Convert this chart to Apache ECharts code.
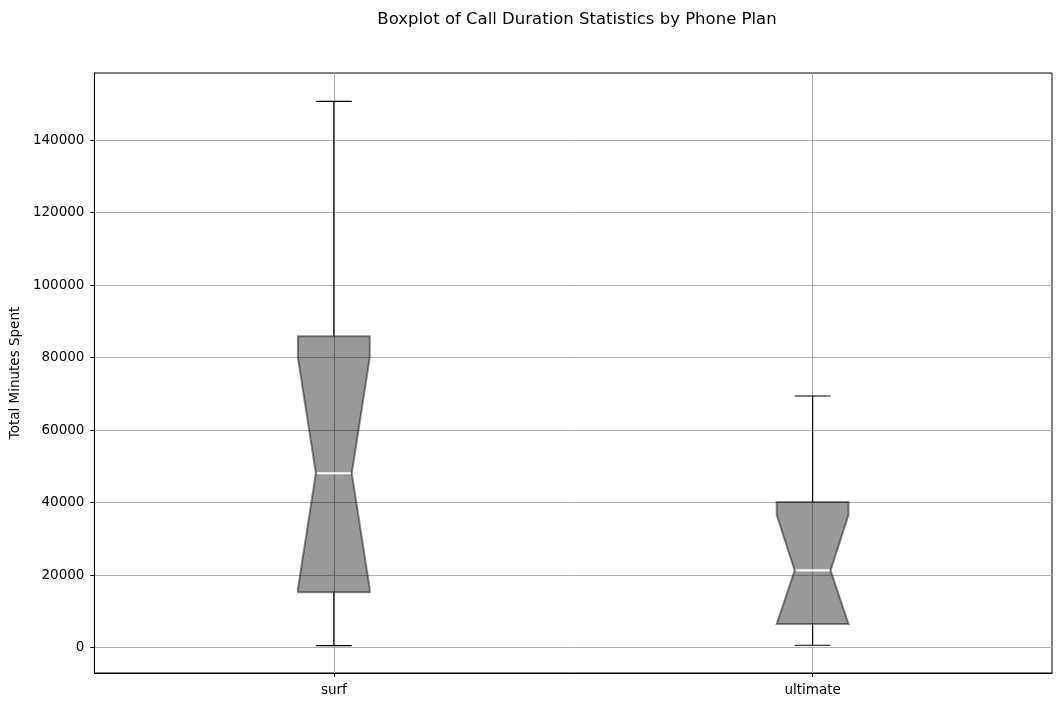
<!DOCTYPE html>
<html>
<head>
<meta charset="utf-8">
<script src="https://cdn.jsdelivr.net/npm/echarts@6/dist/echarts.min.js"></script>
<style>
  html, body { margin: 0; padding: 0; background: #fff; }
  #chart { width: 1061px; height: 707px; }
</style>
</head>
<body>
<div id="chart"></div>
<script>
// Boxplot data
var categories = ["surf", "ultimate"];
var whiskerLow = [550, 650];
var q1 = [15300, 6500];
var notchLow = [16200, 6500];
var median = [48100, 21300];
var notchHigh = [80000, 36600];
var q3 = [85900, 40200];
var whiskerHigh = [150700, 69400];
var yTicks = [0, 20000, 40000, 60000, 80000, 100000, 120000, 140000];
var xTicks = [1, 2];

var boxData = categories.map(function (c, i) {
  return [i + 1, whiskerLow[i], q1[i], notchLow[i], median[i], notchHigh[i], q3[i], whiskerHigh[i]];
});

var font = "DejaVu Sans";
var boxWidth = 0.15;

function renderBox(params, api) {
  var x = api.value(0);
  var lo = api.coord([x, api.value(1)]);
  var b1 = api.coord([x, api.value(2)]);
  var nl = api.coord([x, api.value(3)]);
  var md = api.coord([x, api.value(4)]);
  var nh = api.coord([x, api.value(5)]);
  var b3 = api.coord([x, api.value(6)]);
  var hi = api.coord([x, api.value(7)]);
  var half = api.size([boxWidth, 0])[0] / 2;
  var cx = lo[0];
  var L = cx - half, R = cx + half;
  var nL = cx - half / 2, nR = cx + half / 2;
  var black = { stroke: "#000", lineWidth: 1.2 };
  return {
    type: "group",
    children: [
      {
        type: "polygon",
        shape: {
          points: [
            [L, b1[1]], [L, nl[1]], [nL, md[1]], [L, nh[1]], [L, b3[1]],
            [R, b3[1]], [R, nh[1]], [nR, md[1]], [R, nl[1]], [R, b1[1]]
          ]
        },
        style: { fill: "rgba(0,0,0,0.4)", stroke: "rgba(0,0,0,0.45)", lineWidth: 2, lineJoin: "miter" }
      },
      { type: "line", shape: { x1: cx, y1: b1[1], x2: cx, y2: lo[1] }, style: black },
      { type: "line", shape: { x1: cx, y1: b3[1], x2: cx, y2: hi[1] }, style: black },
      { type: "line", shape: { x1: nL, y1: lo[1], x2: nR, y2: lo[1] }, style: black },
      { type: "line", shape: { x1: nL, y1: hi[1], x2: nR, y2: hi[1] }, style: black },
      { type: "line", shape: { x1: nL + 1, y1: md[1], x2: nR - 1, y2: md[1] }, style: { stroke: "#fff", lineWidth: 2.2 } }
    ]
  };
}

var chart = echarts.init(document.getElementById("chart"));
var option = {
  animation: false,
  backgroundColor: "#fff",
  title: {
    text: "Boxplot of Call Duration Statistics by Phone Plan",
    left: 572,
    textAlign: "center",
    top: 6,
    textStyle: { fontFamily: font, fontSize: 16.5, fontWeight: "normal", color: "#000" }
  },
  grid: {
    left: 93, right: 9, top: 73, bottom: 34,
    show: true, borderColor: "#000", borderWidth: 1
  },
  xAxis: {
    type: "value",
    min: 0.5,
    max: 2.5,
    axisLine: { show: true, onZero: false, lineStyle: { color: "#000" } },
    axisTick: { show: true, length: 4, customValues: xTicks, lineStyle: { color: "#000" } },
    axisLabel: {
      customValues: xTicks,
      margin: 10,
      fontFamily: font, fontSize: 13.5, color: "#000",
      formatter: function (v) { return categories[Math.round(v) - 1]; }
    },
    splitLine: { show: true, lineStyle: { color: "#b0b0b0", width: 1 } }
  },
  yAxis: {
    type: "value",
    min: -7000,
    max: 158500,
    name: "Total Minutes Spent",
    nameLocation: "middle",
    nameGap: 71,
    nameTextStyle: { fontFamily: font, fontSize: 13.5, color: "#000" },
    axisLine: { show: true, lineStyle: { color: "#000" } },
    axisTick: { show: true, length: 4, customValues: yTicks, lineStyle: { color: "#000" } },
    axisLabel: {
      customValues: yTicks, margin: 10, fontFamily: font, fontSize: 13.5, color: "#000",
      formatter: function (v) { return String(v); }
    },
    splitLine: { show: true, lineStyle: { color: "#b0b0b0", width: 1 } }
  },
  series: [
    {
      type: "custom",
      renderItem: renderBox,
      data: boxData,
      encode: { x: 0, y: [1, 2, 3, 4, 5, 6, 7] },
      z: 3
    }
  ]
};
chart.setOption(option);
</script>
</body>
</html>
